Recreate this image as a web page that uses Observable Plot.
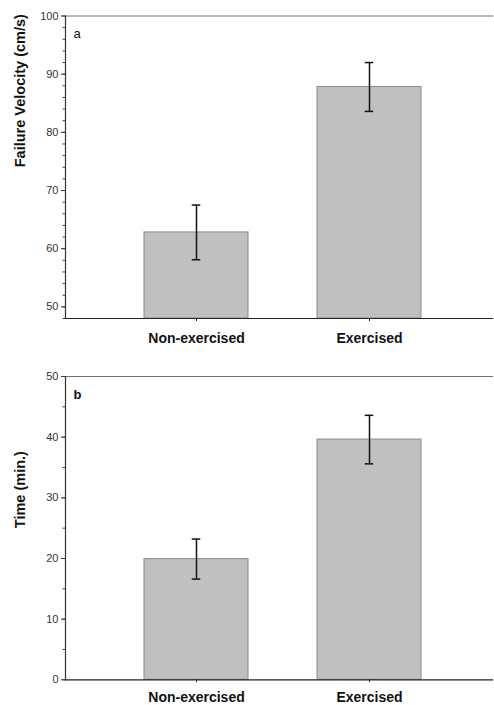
<!DOCTYPE html>
<html>
<head>
<meta charset="utf-8">
<script src="https://cdn.jsdelivr.net/npm/d3@7"></script>
<script src="https://cdn.jsdelivr.net/npm/@observablehq/plot@0.6"></script>
<style>
  html, body { margin: 0; padding: 0; background: #fff; }
  #chart { width: 494px; }
  #chart svg { display: block; }
</style>
</head>
<body>
<div id="chart"></div>
<script>
// ---- data ----
const categories = ["Non-exercised", "Exercised"];

// Panel a: failure velocity (cm/s)
const velocityMean = [62.8, 87.8];
const velocityErr = [4.7, 4.2];
const velocityTicks = [50, 60, 70, 80, 90, 100];
const velocityMinorTicks = d3.range(48, 100.1, 2);

// Panel b: time (min.)
const timeMean = [19.9, 39.6];
const timeErr = [3.3, 4.0];
const timeTicks = [0, 10, 20, 30, 40, 50];
const timeMinorTicks = d3.range(0, 50.1, 5);

const FONT = "'Liberation Sans', Arial, Helvetica, sans-serif";

function panel({letter, letterBold, title, means, errs, domain, ticks, minor, height, marginTop, marginBottom, xPad}) {
  const rows = categories.map((c, i) => ({
    cat: c, v: means[i], lo: means[i] - errs[i], hi: means[i] + errs[i]
  }));
  const bw = 103.5;
  const capInset = (bw - 8) / 2;
  return Plot.plot({
    width: 494,
    height,
    marginLeft: 65,
    marginRight: 1,
    marginTop,
    marginBottom,
    style: {fontFamily: FONT, background: "#fff", overflow: "visible"},
    x: {domain: categories, paddingInner: 0.4, paddingOuter: 0.436, align: 0.52, axis: null},
    y: {domain, axis: null},
    marks: [
      Plot.barY(rows, {x: "cat", y1: () => domain[0], y2: "v", fill: "#c0c0c0", stroke: "#8a8a8a", strokeWidth: 1}),
      Plot.ruleX(rows, {x: "cat", y1: "lo", y2: "hi", stroke: "#111", strokeWidth: 1.5}),
      Plot.tickY(rows, {x: "cat", y: "lo", stroke: "#111", strokeWidth: 1.5, insetLeft: capInset, insetRight: capInset}),
      Plot.tickY(rows, {x: "cat", y: "hi", stroke: "#111", strokeWidth: 1.5, insetLeft: capInset, insetRight: capInset}),
      // frame lines: top (gray), left and bottom (dark)
      Plot.ruleY([domain[1]], {stroke: "#707070", strokeWidth: 1.2}),
      Plot.ruleY([domain[0]], {stroke: "#222", strokeWidth: 1.2}),
      Plot.frame({anchor: "left", stroke: "#333", strokeWidth: 1.2}),
      // y axis
      Plot.axisY({ticks, tickSize: 4, tickPadding: 3, fontSize: 11, fill: "#333", stroke: "#333", label: null}),
      Plot.axisY({ticks: minor, tickSize: 2.5, text: null, stroke: "#444", label: null}),
      // x axis
      Plot.axisX({tickSize: 3, tickPadding: xPad, fontSize: 14, fontWeight: "bold", fill: "#111", stroke: "#222", label: null}),
      // y title
      Plot.text([title], {frameAnchor: "left", rotate: -90, dx: -45, fontSize: 14.5, fontWeight: "bold", fill: "#111"}),
      // panel letter
      Plot.text([letter], {frameAnchor: "top-left", dx: 8, dy: 13, fontSize: 13, fontWeight: letterBold ? "bold" : "normal", fill: "#111"})
    ]
  });
}

const chart = document.getElementById("chart");
chart.append(panel({
  letter: "a", letterBold: false, title: "Failure Velocity (cm/s)",
  means: velocityMean, errs: velocityErr, domain: [48, 100],
  ticks: velocityTicks, minor: velocityMinorTicks,
  height: 350, marginTop: 15.5, marginBottom: 32, xPad: 12
}));
chart.append(panel({
  letter: "b", letterBold: true, title: "Time (min.)",
  means: timeMean, errs: timeErr, domain: [0, 50],
  ticks: timeTicks, minor: timeMinorTicks,
  height: 355, marginTop: 26, marginBottom: 25.7, xPad: 9
}));
</script>
</body>
</html>
